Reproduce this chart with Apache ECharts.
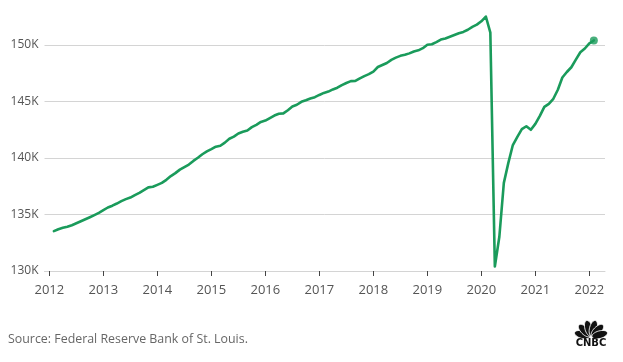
<!DOCTYPE html>
<html><head><meta charset="utf-8">
<script src="https://cdn.jsdelivr.net/npm/echarts@6/dist/echarts.min.js"></script>
<style>html,body{margin:0;padding:0;background:#fff}#c{width:623px;height:362px}</style>
</head><body><div id="c"></div>
<script>
// First observation: February 2012, monthly thereafter
const firstYear = 2012;
const firstMonth = 2;
// Total nonfarm employment, thousands of thousands (K)
const employment = [
  133.53, 133.70, 133.82, 133.92, 134.05, 134.22, 134.40, 134.58, 134.76, 134.95, 135.15,
  135.38, 135.62, 135.78, 135.97, 136.18, 136.36, 136.50, 136.72, 136.92, 137.16, 137.40, 137.45,
  137.62, 137.80, 138.07, 138.40, 138.66, 138.97, 139.20, 139.42, 139.74, 140.02, 140.33, 140.58,
  140.78, 141.00, 141.08, 141.36, 141.70, 141.89, 142.17, 142.32, 142.44, 142.73, 142.94, 143.19,
  143.31, 143.53, 143.76, 143.92, 143.95, 144.23, 144.56, 144.71, 144.97, 145.11, 145.26, 145.38,
  145.58, 145.76, 145.88, 146.07, 146.22, 146.45, 146.64, 146.80, 146.82, 147.05, 147.25, 147.42,
  147.65, 148.05, 148.23, 148.41, 148.68, 148.88, 149.04, 149.13, 149.26, 149.43, 149.53, 149.72,
  150.02, 150.07, 150.26, 150.48, 150.58, 150.73, 150.88, 151.04, 151.16, 151.35, 151.60, 151.80,
  152.10, 152.52, 151.09, 130.40, 133.03, 137.80, 139.57, 141.15, 141.87, 142.55, 142.81, 142.50,
  143.02, 143.73, 144.52, 144.79, 145.24, 146.04, 147.12, 147.61, 148.03, 148.71, 149.36, 149.69,
  150.15, 150.40
];
const yearTicks = [2012, 2013, 2014, 2015, 2016, 2017, 2018, 2019, 2020, 2021, 2022];
const yTicks = [130, 135, 140, 145, 150];
const sourceText = 'Source: Federal Reserve Bank of St. Louis.';
const logoText = 'CNBC';

const points = employment.map((v, i) => [firstYear + (firstMonth - 1 + i) / 12, v]);
const lastPoint = points[points.length - 1];

const green = '#1a9b5b';
const font = '"Open Sans", "Liberation Sans", sans-serif';

const feathers = [-75, -45, -15, 15, 45, 75].map(a => ({
  type: 'ellipse',
  shape: { cx: 0, cy: -9, rx: 3.8, ry: 8 },
  rotation: -a * Math.PI / 180,
  style: { fill: '#111', stroke: '#fff', lineWidth: 0.8 }
}));

const chart = echarts.init(document.getElementById('c'), null, { renderer: 'canvas' });
chart.setOption({
  animation: false,
  backgroundColor: '#fff',
  grid: { left: 44.5, right: 18, top: 45, bottom: 91, containLabel: false },
  xAxis: {
    type: 'value',
    min: 2011.91,
    max: 2022.29,
    axisLine: { show: true, lineStyle: { color: '#d4d4d4', width: 1 } },
    axisTick: { show: true, customValues: yearTicks, length: 5, lineStyle: { color: '#444', width: 1 } },
    axisLabel: {
      customValues: yearTicks, formatter: v => String(Math.round(v)),
      color: '#555', fontSize: 13, fontFamily: font, margin: 13
    },
    splitLine: { show: false }
  },
  yAxis: {
    type: 'value',
    min: yTicks[0],
    max: yTicks[yTicks.length - 1],
    interval: 5,
    axisLine: { show: false },
    axisTick: { show: false },
    axisLabel: { formatter: v => v + 'K', color: '#555', fontSize: 12, fontFamily: font, margin: 6 },
    splitLine: { show: true, lineStyle: { color: '#d4d4d4', width: 1 } }
  },
  series: [
    {
      type: 'line',
      data: points,
      showSymbol: false,
      clip: false,
      lineStyle: { color: green, width: 2.6, cap: 'round', join: 'round' },
      z: 3
    },
    {
      type: 'scatter',
      data: [lastPoint],
      symbolSize: 8,
      clip: false,
      itemStyle: { color: green },
      z: 4
    }
  ],
  graphic: [
    {
      type: 'text', left: 8, top: 333,
      style: { text: sourceText, fill: '#666', font: '12.4px ' + font }
    },
    {
      type: 'group', x: 591, y: 337,
      children: feathers
    },
    {
      type: 'text', x: 591, y: 343,
      style: { text: logoText, fill: '#111', font: '900 10px "DejaVu Sans", "Liberation Sans", sans-serif', align: 'center', verticalAlign: 'middle' }
    }
  ]
});
</script>
</body></html>
